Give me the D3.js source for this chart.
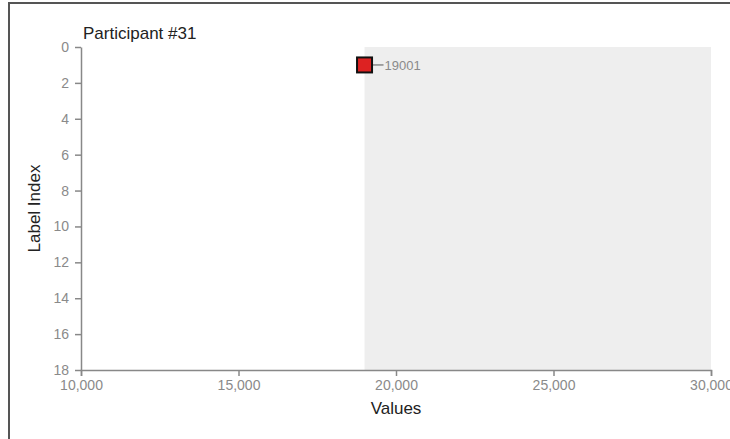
<!DOCTYPE html>
<html><head><meta charset="utf-8">
<script src="https://cdn.jsdelivr.net/npm/d3@7"></script>
<style>
body{margin:0;background:#fff;font-family:Arial,"Liberation Sans",sans-serif;}
svg{display:block;}
.axis text{fill:#8a8a8a;font-size:14px;font-family:Arial,"Liberation Sans",sans-serif;}
.axis path,.axis line{stroke:#888;stroke-width:1.5;}
</style></head>
<body>
<script>
const title = "Participant #31";
const pointValues = [19001];
const pointIndices = [1];
const pointLabels = ["19001"];
const xDomain = [10000, 30000];
const yDomain = [0, 18];
const shadedRange = [19001, 30000];
const xLabel = "Values";
const yLabel = "Label Index";

const W = 730, H = 439;
const svg = d3.select("body").append("svg").attr("width", W).attr("height", H);
svg.append("rect").attr("x", 9).attr("y", 3).attr("width", W + 10).attr("height", H + 10)
  .attr("fill", "none").attr("stroke", "#555").attr("stroke-width", 2);

const m = {left: 81, top: 47, right: 711, bottom: 370};
const x = d3.scaleLinear().domain(xDomain).range([m.left, m.right]);
const y = d3.scaleLinear().domain(yDomain).range([m.top, m.bottom]);

svg.append("rect").attr("x", x(shadedRange[0])).attr("y", m.top)
  .attr("width", x(shadedRange[1]) - x(shadedRange[0])).attr("height", m.bottom - m.top)
  .attr("fill", "#eeeeee");

svg.append("g").attr("class", "axis").attr("transform", `translate(0,${m.bottom})`)
  .call(d3.axisBottom(x).tickValues([10000,15000,20000,25000,30000]).tickFormat(d3.format(",")).tickSizeOuter(6))
  .selectAll("text").attr("dy", "0.8em");
svg.append("g").attr("class", "axis").attr("transform", `translate(${m.left},0)`)
  .call(d3.axisLeft(y).tickValues(d3.range(0, 19, 2)).tickSizeOuter(0).tickPadding(6));

svg.append("text").attr("x", 83).attr("y", 39).attr("font-size", 17).attr("fill", "#222").text(title);
svg.append("text").attr("x", 396).attr("y", 414).attr("text-anchor", "middle").attr("font-size", 17).attr("fill", "#222").text(xLabel);
svg.append("text").attr("transform", `translate(40,${(m.top+m.bottom)/2}) rotate(-90)`).attr("text-anchor", "middle")
  .attr("font-size", 17).attr("fill", "#222").text(yLabel);

const pts = pointValues.map((v, i) => ({v, idx: pointIndices[i], label: pointLabels[i]}));
const g = svg.append("g");
g.selectAll("line.lbl").data(pts).enter().append("line")
  .attr("x1", d => x(d.v) + 8).attr("x2", d => x(d.v) + 19)
  .attr("y1", d => y(d.idx)).attr("y2", d => y(d.idx)).attr("stroke", "#888").attr("stroke-width", 1.5);
g.selectAll("text.lbl").data(pts).enter().append("text")
  .attr("x", d => x(d.v) + 20).attr("y", d => y(d.idx) + 5)
  .attr("font-size", 13).attr("fill", "#8a8a8a").text(d => d.label);
g.selectAll("rect.pt").data(pts).enter().append("rect")
  .attr("x", d => x(d.v) - 7.5).attr("y", d => y(d.idx) - 7.5).attr("width", 15).attr("height", 15)
  .attr("fill", "#dd2222").attr("stroke", "#111").attr("stroke-width", 2);
</script>
</body></html>
